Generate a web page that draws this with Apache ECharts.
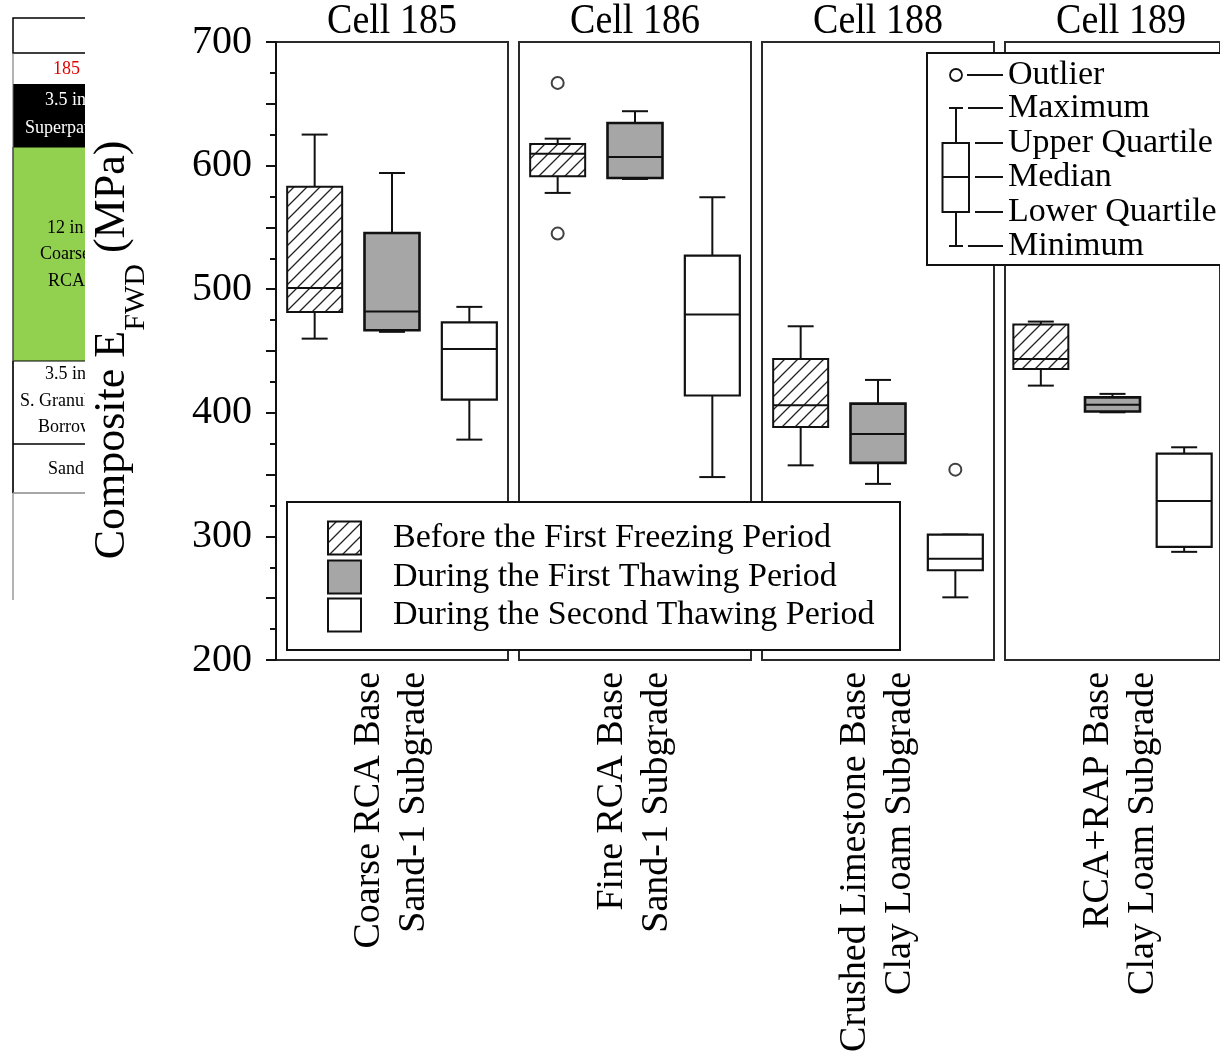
<!DOCTYPE html>
<html><head><meta charset="utf-8">
<script src="https://cdn.jsdelivr.net/npm/echarts@6/dist/echarts.min.js"></script>
<style>html,body{margin:0;padding:0;background:#fff}#c{width:1220px;height:1058px}</style>
</head><body><div id="c"></div>
<script>
// ---------- data ----------
const cells = ['Cell 185', 'Cell 186', 'Cell 188', 'Cell 189'];
const sectionLabels = [
  ['Coarse RCA Base', 'Sand-1 Subgrade'],
  ['Fine RCA Base', 'Sand-1 Subgrade'],
  ['Crushed Limestone Base', 'Clay Loam Subgrade'],
  ['RCA+RAP Base', 'Clay Loam Subgrade']
];
const periods = ['Before the First Freezing Period', 'During the First Thawing Period', 'During the Second Thawing Period'];
const yTicks = [200, 300, 400, 500, 600, 700];
const boxKey = ['Outlier', 'Maximum', 'Upper Quartile', 'Median', 'Lower Quartile', 'Minimum'];
// [min, Q1, median, Q3, max] for each period
const cell185 = [[460, 481.6, 501, 582.8, 625.1], [465.5, 466.8, 482, 545.5, 594], [378.3, 410.7, 451.7, 473.2, 485.7]];
const cell186 = [[577.9, 591.3, 609.5, 617.5, 621.8], [589.2, 590, 607, 634.5, 644], [348, 414, 479.5, 527.2, 574.4]];
const cell188 = [[357.5, 388.6, 406.1, 443.6, 470], [342.5, 359.5, 382.9, 407.4, 426.6], [250.7, 272.6, 282, 301.5, 301.5]];
const cell189 = [[422, 435.5, 443.6, 471.4, 473.8], [400.4, 401, 406.6, 412.5, 415.3], [287.5, 291.5, 328.7, 367, 372.1]];
// outliers: [period index, value]
const out185 = [];
const out186 = [[0, 666.9], [0, 545]];
const out188 = [[2, 354]];
const out189 = [];
// left table fragment text
const tableTexts = ['185', '3.5 in.', 'Superpave', '12 in.', 'Coarse', 'RCA', '3.5 in.', 'S. Granular', 'Borrow', 'Sand'];

const boxes = [cell185, cell186, cell188, cell189];
const outs = [out185, out186, out188, out189];

// ---------- styling ----------
const FONT = '"Liberation Serif", "Times New Roman", serif';
function hatchCanvas() {
  const s = 13, c = document.createElement('canvas');
  c.width = s; c.height = s;
  const g = c.getContext('2d');
  g.fillStyle = '#fff'; g.fillRect(0, 0, s, s);
  g.strokeStyle = '#222'; g.lineWidth = 1.3; g.beginPath();
  g.moveTo(0, s); g.lineTo(s, 0);
  g.moveTo(-2, 2); g.lineTo(2, -2);
  g.moveTo(s - 2, s + 2); g.lineTo(s + 2, s - 2);
  g.stroke();
  return c;
}
const hatch = { image: hatchCanvas(), repeat: 'repeat' };
const fills = [hatch, '#a6a6a6', '#ffffff'];
const bwidths = [2, 2.6, 2.2];

const PANEL_L = 276, PANEL_W = 232, PANEL_GAP = 11, TOP = 42, H = 618;
const grids = [], xAxes = [], yAxes = [], series = [];
for (let i = 0; i < 4; i++) {
  grids.push({ left: PANEL_L + i * (PANEL_W + PANEL_GAP), top: TOP, width: PANEL_W, height: H,
    show: true, borderColor: '#2a2a2a', borderWidth: 2, backgroundColor: 'transparent', containLabel: false });
  xAxes.push({ type: 'category', gridIndex: i, data: periods, boundaryGap: true,
    axisLine: { show: false }, axisTick: { show: false }, axisLabel: { show: false } });
  yAxes.push({ type: 'value', gridIndex: i, min: 200, max: 700, interval: 50, show: i === 0,
    axisLine: { show: true, lineStyle: { color: '#111', width: 2 } },
    axisTick: { show: true, length: 10, lineStyle: { color: '#111', width: 2 } },
    minorTick: { show: true, splitNumber: 2, length: 6, lineStyle: { color: '#111', width: 2 } },
    splitLine: { show: false }, minorSplitLine: { show: false },
    axisLabel: { show: true, margin: 24, color: '#000', fontFamily: FONT, fontSize: 40,
      formatter: v => yTicks.includes(v) ? String(v) : '' } });
  series.push({
    type: 'custom', xAxisIndex: i, yAxisIndex: i, z: 5,
    data: boxes[i].map((b, k) => [k].concat(b)),
    encode: { x: 0, y: [1, 2, 3, 4, 5] },
    renderItem: function (params, api) {
      const k = api.value(0);
      const p = d => api.coord([k, api.value(d)]);
      const xc = p(3)[0];
      const yMin = p(1)[1], yQ1 = p(2)[1], yMed = p(3)[1], yQ3 = p(4)[1], yMax = p(5)[1];
      const bw = 55, cw = 26;
      const ls = { stroke: '#111', lineWidth: 2 };
      const children = [];
      if (yMax < yQ3 - 0.5) {
        children.push({ type: 'line', shape: { x1: xc, y1: yQ3, x2: xc, y2: yMax }, style: ls });
      }
      children.push({ type: 'line', shape: { x1: xc - cw / 2, y1: yMax, x2: xc + cw / 2, y2: yMax }, style: ls });
      if (yMin > yQ1 + 0.5) {
        children.push({ type: 'line', shape: { x1: xc, y1: yQ1, x2: xc, y2: yMin }, style: ls });
      }
      children.push({ type: 'line', shape: { x1: xc - cw / 2, y1: yMin, x2: xc + cw / 2, y2: yMin }, style: ls });
      children.push({ type: 'rect', shape: { x: xc - bw / 2, y: yQ3, width: bw, height: yQ1 - yQ3 },
        style: { fill: fills[k], stroke: '#111', lineWidth: bwidths[k] } });
      children.push({ type: 'line', shape: { x1: xc - bw / 2, y1: yMed, x2: xc + bw / 2, y2: yMed }, style: ls });
      return { type: 'group', children: children };
    }
  });
  series.push({
    type: 'scatter', xAxisIndex: i, yAxisIndex: i, z: 6,
    data: outs[i], symbol: 'circle', symbolSize: 12,
    itemStyle: { color: '#fff', borderColor: '#111', borderWidth: 2 }, silent: true
  });
}

// ---------- graphic elements ----------
const g = [];
// left table fragment (cut by the chart area)
const TT = { fontFamily: FONT, fontSize: 18, fill: '#000' };
g.push({ type: 'rect', z: 1, shape: { x: 13, y: 18, width: 90, height: 35 }, style: { fill: '#fff', stroke: '#000', lineWidth: 1.5 } });
g.push({ type: 'rect', z: 1, shape: { x: 13, y: 84, width: 90, height: 63 }, style: { fill: '#000' } });
g.push({ type: 'rect', z: 1, shape: { x: 13, y: 147, width: 90, height: 214 }, style: { fill: '#92d050', stroke: '#000', lineWidth: 1 } });
g.push({ type: 'line', z: 1, shape: { x1: 13, y1: 53, x2: 13, y2: 600 }, style: { stroke: '#666', lineWidth: 1 } });
g.push({ type: 'line', z: 1, shape: { x1: 13, y1: 361, x2: 13, y2: 444 }, style: { stroke: '#000', lineWidth: 1.5 } });
g.push({ type: 'line', z: 1, shape: { x1: 13, y1: 444, x2: 103, y2: 444 }, style: { stroke: '#000', lineWidth: 1.5 } });
g.push({ type: 'line', z: 1, shape: { x1: 13, y1: 444, x2: 13, y2: 493 }, style: { stroke: '#000', lineWidth: 1.5 } });
g.push({ type: 'line', z: 1, shape: { x1: 13, y1: 493, x2: 103, y2: 493 }, style: { stroke: '#888', lineWidth: 1.5 } });
const tpos = [[53, 69, '#e00000'], [45, 100, '#fff'], [25, 128, '#fff'], [47, 228, '#000'], [40, 254, '#000'], [48, 281, '#000'],
  [45, 374, '#000'], [20, 401, '#000'], [38, 427, '#000'], [48, 469, '#000']];
tableTexts.forEach((t, k) => {
  g.push({ type: 'text', z: 2, x: tpos[k][0], y: tpos[k][1],
    style: Object.assign({}, TT, { text: t, fill: tpos[k][2], align: 'left', verticalAlign: 'middle' }) });
});
// white mask that cuts the table (stays left of the tick labels)
g.push({ type: 'rect', z: 3, shape: { x: 85, y: 0, width: 90, height: 1058 }, style: { fill: '#fff' } });

// y axis title with subscript
const mctx = document.createElement('canvas').getContext('2d');
function tw(t, fs) { mctx.font = fs + 'px ' + FONT; return mctx.measureText(t).width; }
const YT_FS = 44, YT_SUB = 30;
const w1 = tw('Composite E', YT_FS), w2 = tw('FWD', YT_SUB), w3 = tw(' (MPa)', YT_FS);
const ytLen = w1 + w2 + w3;
g.push({ type: 'group', z: 10, x: 112, y: 350 + ytLen / 2, rotation: Math.PI / 2, children: [
  { type: 'text', z: 10, x: 0, y: 0, style: { text: 'Composite E', fontFamily: FONT, fontSize: YT_FS, fill: '#000', align: 'left', verticalAlign: 'middle' } },
  { type: 'text', z: 10, x: w1, y: 24, style: { text: 'FWD', fontFamily: FONT, fontSize: YT_SUB, fill: '#000', align: 'left', verticalAlign: 'middle' } },
  { type: 'text', z: 10, x: w1 + w2, y: 0, style: { text: ' (MPa)', fontFamily: FONT, fontSize: YT_FS, fill: '#000', align: 'left', verticalAlign: 'middle' } }
] });

// panel titles and section labels
cells.forEach((c, i) => {
  const cx = PANEL_L + i * (PANEL_W + PANEL_GAP) + PANEL_W / 2;
  g.push({ type: 'text', z: 10, x: cx, y: 22, scaleY: 1.1,
    style: { text: c, fontFamily: FONT, fontSize: 38, fill: '#000', align: 'center', verticalAlign: 'middle' } });
  g.push({ type: 'text', z: 10, x: cx, y: 672, rotation: Math.PI / 2,
    style: { text: sectionLabels[i].join('\n'), fontFamily: FONT, fontSize: 38, lineHeight: 45, fill: '#000', align: 'right', verticalAlign: 'middle' } });
});

// period legend
g.push({ type: 'rect', z: 20, shape: { x: 287, y: 502, width: 613, height: 148 }, style: { fill: '#fff', stroke: '#111', lineWidth: 2 } });
const legY = [538, 577, 615];
periods.forEach((p, k) => {
  g.push({ type: 'rect', z: 21, shape: { x: 328, y: legY[k] - 16.5, width: 33, height: 33 }, style: { fill: fills[k], stroke: '#111', lineWidth: 2 } });
  g.push({ type: 'text', z: 21, x: 393, y: legY[k], style: { text: p, fontFamily: FONT, fontSize: 34, fill: '#000', align: 'left', verticalAlign: 'middle' } });
});

// box-plot key legend
g.push({ type: 'rect', z: 20, shape: { x: 927, y: 53, width: 320, height: 212 }, style: { fill: '#fff', stroke: '#111', lineWidth: 2 } });
const keyY = [75, 108, 143, 177, 212, 246];
const KL = { stroke: '#111', lineWidth: 2 };
g.push({ type: 'circle', z: 21, shape: { cx: 956, cy: keyY[0], r: 6 }, style: { fill: '#fff', stroke: '#111', lineWidth: 1.8 } });
g.push({ type: 'line', z: 21, shape: { x1: 956, y1: keyY[1], x2: 956, y2: keyY[2] }, style: KL });
g.push({ type: 'line', z: 21, shape: { x1: 956, y1: keyY[4], x2: 956, y2: keyY[5] }, style: KL });
g.push({ type: 'line', z: 21, shape: { x1: 949, y1: keyY[1], x2: 963, y2: keyY[1] }, style: KL });
g.push({ type: 'line', z: 21, shape: { x1: 949, y1: keyY[5], x2: 963, y2: keyY[5] }, style: KL });
g.push({ type: 'rect', z: 21, shape: { x: 942.5, y: keyY[2], width: 26.5, height: keyY[4] - keyY[2] }, style: { fill: '#fff', stroke: '#111', lineWidth: 2 } });
g.push({ type: 'line', z: 21, shape: { x1: 942.5, y1: keyY[3], x2: 969, y2: keyY[3] }, style: KL });
const keyStart = [967, 968, 975, 975, 975, 968];
boxKey.forEach((t, k) => {
  g.push({ type: 'line', z: 21, shape: { x1: keyStart[k], y1: keyY[k], x2: 1003, y2: keyY[k] }, style: KL });
  g.push({ type: 'text', z: 21, x: 1008, y: keyY[k], style: { text: t, fontFamily: FONT, fontSize: 34, fill: '#000', align: 'left', verticalAlign: 'middle' } });
});

const chart = echarts.init(document.getElementById('c'), null, { renderer: 'canvas' });
chart.setOption({
  backgroundColor: '#fff',
  animation: false,
  grid: grids, xAxis: xAxes, yAxis: yAxes, series: series,
  graphic: { elements: g }
});
</script></body></html>
